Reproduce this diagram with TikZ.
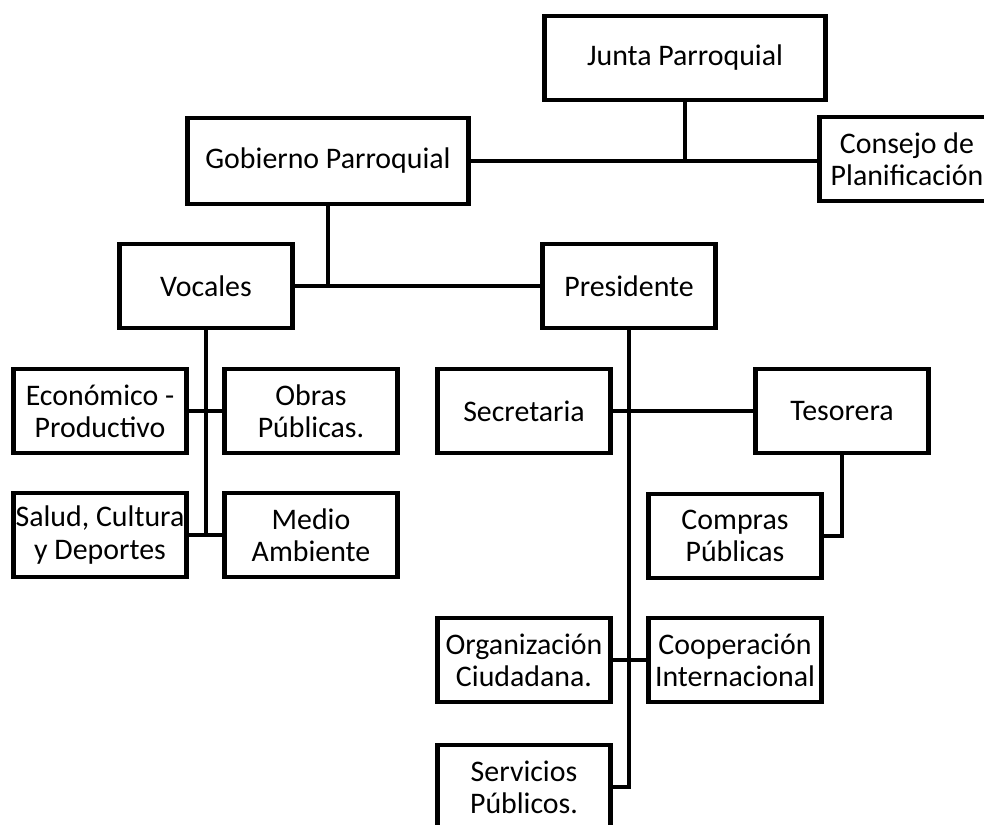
\documentclass[tikz,border=0pt]{standalone}
\usepackage{fontspec}
\setmainfont{Carlito}
\usetikzlibrary{calc, positioning}
\tikzset{
    unit/.style={rectangle, draw, line width=2.8pt, fill=white, align=center, inner sep=1pt, minimum width=3.46cm, minimum height=1.68cm, font=\fontsize{17}{18.3}\selectfont},
    wideUnit/.style={unit, minimum width=5.62cm},
    link/.style={line width=2.4pt},
}
\newcommand{\drawLink}[2]{
    \draw[link] (#1) -- (#2);
}
\newcommand{\drawElbow}[3]{
    \draw[link] (#1) -- (#1 |- #2) -- (#3);
}

\begin{document}
\begin{tikzpicture}[x=0.02cm, y=-0.02cm]
        \useasboundingbox (0,0) rectangle (984,825);
        \clip (0,0) rectangle (984,825);

        \node[wideUnit] (junta) at (685, 58) {Junta Parroquial};
        \node[wideUnit, minimum height=1.72cm] (gobierno) at (328, 161) {Gobierno Parroquial};
        \node[unit, minimum width=3.5cm] (consejo) at (907, 159) {Consejo de\\Planificaci\'on};
        \node[unit] (vocales) at (206, 286) {Vocales};
        \node[unit] (presidente) at (629, 286) {Presidente};
        \node[unit] (economico) at (100, 411) {Econ\'omico -\\Productivo};
        \node[unit] (obras) at (311, 411) {Obras\\P\'ublicas.};
        \node[unit] (salud) at (100, 535) {Salud, Cultura\\y Deportes};
        \node[unit] (medio) at (311, 535) {Medio\\Ambiente};
        \node[unit] (secretaria) at (524, 411) {Secretaria};
        \node[unit] (tesorera) at (842, 411) {Tesorera};
        \node[unit] (compras) at (735, 536) {Compras\\P\'ublicas};
        \node[unit] (organizacion) at (524, 660) {Organizaci\'on\\Ciudadana.};
        \node[unit] (cooperacion) at (735, 660) {Cooperaci\'on\\Internacional};
        \node[unit] (servicios) at (524, 787) {Servicios\\P\'ublicos.};

        \drawLink{gobierno.east}{consejo.west |- gobierno.east}
        \drawLink{junta.south}{junta.south |- gobierno.east}
        \drawLink{gobierno.south}{gobierno.south |- vocales.east}
        \drawLink{vocales.east}{presidente.west}
        \drawLink{vocales.south}{vocales.south |- salud.east}
        \drawLink{economico.east}{obras.west}
        \drawLink{salud.east}{medio.west}
        \drawElbow{presidente.south}{servicios.east}{servicios.east}
        \drawLink{secretaria.east}{tesorera.west}
        \drawElbow{tesorera.south}{compras.east}{compras.east}
        \drawLink{organizacion.east}{cooperacion.west}

    \end{tikzpicture}
\end{document}
